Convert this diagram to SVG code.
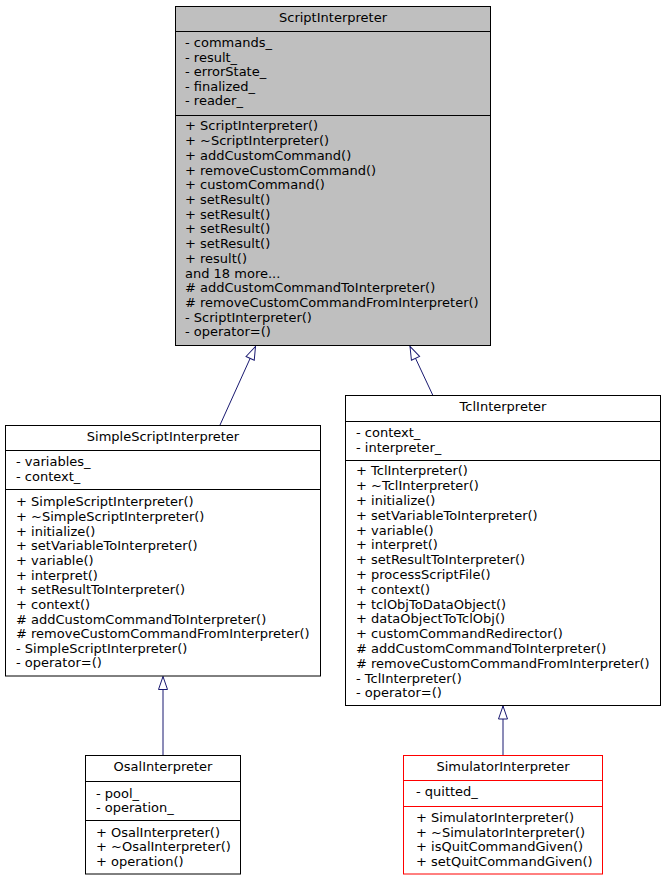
<svg xmlns="http://www.w3.org/2000/svg" width="667" height="881" viewBox="0 0 667 881">
<defs>
<style>
text{font-family:"DejaVu Sans","Liberation Sans",sans-serif;font-size:13px;fill:#000}
.t{text-anchor:middle}
.box{fill:#fff;stroke:#000;stroke-width:1}
.cur{fill:#bfbfbf;stroke:#000;stroke-width:1}
.red{fill:#fff;stroke:#ff0000;stroke-width:1}
.div{stroke:#000;stroke-width:1}
.divr{stroke:#ff0000;stroke-width:1}
.edge{fill:none;stroke:#191970;stroke-width:1}
</style>
<marker id="inh" markerUnits="userSpaceOnUse" markerWidth="15" markerHeight="11" refX="13" refY="5.5" orient="auto" viewBox="-1 0 15 11">
<path d="M0,1 L13,5.5 L0,10 z" fill="#fff" stroke="#191970" stroke-width="1"/>
</marker>
</defs>
<rect x="0" y="0" width="667" height="881" fill="#fff"/>

<g id="connectors">
<path class="edge" d="M220,425 L255.5,346.5" marker-end="url(#inh)"/>
<path class="edge" d="M432.7,395 L410,346.5" marker-end="url(#inh)"/>
<path class="edge" d="M163,755 L163,676.5" marker-end="url(#inh)"/>
<path class="edge" d="M503,755 L503,706" marker-end="url(#inh)"/>
</g>

<g id="ScriptInterpreter">
<rect class="cur" x="175.5" y="6.5" width="315" height="339"/>
<line class="div" x1="175.5" y1="31.5" x2="490.5" y2="31.5"/>
<line class="div" x1="175.5" y1="115.5" x2="490.5" y2="115.5"/>
<text class="t" x="333" y="22">ScriptInterpreter</text>
<text x="185" y="47">- commands_</text>
<text x="185" y="61.5">- result_</text>
<text x="185" y="76">- errorState_</text>
<text x="185" y="90.5">- finalized_</text>
<text x="185" y="105">- reader_</text>
<text x="185" y="130.4">+ ScriptInterpreter()</text>
<text x="185" y="145.1">+ ~ScriptInterpreter()</text>
<text x="185" y="159.8">+ addCustomCommand()</text>
<text x="185" y="174.5">+ removeCustomCommand()</text>
<text x="185" y="189.2">+ customCommand()</text>
<text x="185" y="203.9">+ setResult()</text>
<text x="185" y="218.7">+ setResult()</text>
<text x="185" y="233.4">+ setResult()</text>
<text x="185" y="248.1">+ setResult()</text>
<text x="185" y="262.8">+ result()</text>
<text x="185" y="277.5">and 18 more...</text>
<text x="185" y="292.2"># addCustomCommandToInterpreter()</text>
<text x="185" y="306.9"># removeCustomCommandFromInterpreter()</text>
<text x="185" y="321.6">- ScriptInterpreter()</text>
<text x="185" y="336.4">- operator=()</text>
</g>

<g id="SimpleScriptInterpreter">
<rect class="box" x="5.5" y="425.5" width="315" height="250.5"/>
<line class="div" x1="5.5" y1="450.5" x2="320.5" y2="450.5"/>
<line class="div" x1="5.5" y1="489.5" x2="320.5" y2="489.5"/>
<text class="t" x="163" y="441.4">SimpleScriptInterpreter</text>
<text x="16" y="466.4">- variables_</text>
<text x="16" y="481.4">- context_</text>
<text x="16" y="506.4">+ SimpleScriptInterpreter()</text>
<text x="16" y="521">+ ~SimpleScriptInterpreter()</text>
<text x="16" y="535.7">+ initialize()</text>
<text x="16" y="550.3">+ setVariableToInterpreter()</text>
<text x="16" y="565">+ variable()</text>
<text x="16" y="579.6">+ interpret()</text>
<text x="16" y="594.2">+ setResultToInterpreter()</text>
<text x="16" y="608.9">+ context()</text>
<text x="16" y="623.5"># addCustomCommandToInterpreter()</text>
<text x="16" y="638.2"># removeCustomCommandFromInterpreter()</text>
<text x="16" y="652.8">- SimpleScriptInterpreter()</text>
<text x="16" y="667.4">- operator=()</text>
</g>

<g id="TclInterpreter">
<rect class="box" x="345.5" y="395.5" width="315" height="310"/>
<line class="div" x1="345.5" y1="421.5" x2="660.5" y2="421.5"/>
<line class="div" x1="345.5" y1="460.5" x2="660.5" y2="460.5"/>
<text class="t" x="503" y="411.4">TclInterpreter</text>
<text x="356" y="437">- context_</text>
<text x="356" y="451.7">- interpreter_</text>
<text x="356" y="475.4">+ TclInterpreter()</text>
<text x="356" y="490.2">+ ~TclInterpreter()</text>
<text x="356" y="505">+ initialize()</text>
<text x="356" y="519.8">+ setVariableToInterpreter()</text>
<text x="356" y="534.6">+ variable()</text>
<text x="356" y="549.4">+ interpret()</text>
<text x="356" y="564.2">+ setResultToInterpreter()</text>
<text x="356" y="579">+ processScriptFile()</text>
<text x="356" y="593.8">+ context()</text>
<text x="356" y="608.6">+ tclObjToDataObject()</text>
<text x="356" y="623.4">+ dataObjectToTclObj()</text>
<text x="356" y="638.2">+ customCommandRedirector()</text>
<text x="356" y="653"># addCustomCommandToInterpreter()</text>
<text x="356" y="667.8"># removeCustomCommandFromInterpreter()</text>
<text x="356" y="682.6">- TclInterpreter()</text>
<text x="356" y="697.4">- operator=()</text>
</g>

<g id="OsalInterpreter">
<rect class="box" x="85.5" y="755.5" width="155" height="118.5"/>
<line class="div" x1="85.5" y1="781.5" x2="240.5" y2="781.5"/>
<line class="div" x1="85.5" y1="820.5" x2="240.5" y2="820.5"/>
<text class="t" x="163" y="771.4">OsalInterpreter</text>
<text x="96" y="798">- pool_</text>
<text x="96" y="812">- operation_</text>
<text x="96" y="837">+ OsalInterpreter()</text>
<text x="96" y="851.4">+ ~OsalInterpreter()</text>
<text x="96" y="866">+ operation()</text>
</g>

<g id="SimulatorInterpreter">
<rect class="red" x="403.5" y="755.5" width="199" height="118.5"/>
<line class="divr" x1="403.5" y1="780.5" x2="602.5" y2="780.5"/>
<line class="divr" x1="403.5" y1="806.5" x2="602.5" y2="806.5"/>
<text class="t" x="503" y="771.4">SimulatorInterpreter</text>
<text x="416" y="796.4">- quitted_</text>
<text x="416" y="822">+ SimulatorInterpreter()</text>
<text x="416" y="836.7">+ ~SimulatorInterpreter()</text>
<text x="416" y="851">+ isQuitCommandGiven()</text>
<text x="416" y="865.7">+ setQuitCommandGiven()</text>
</g>
</svg>
